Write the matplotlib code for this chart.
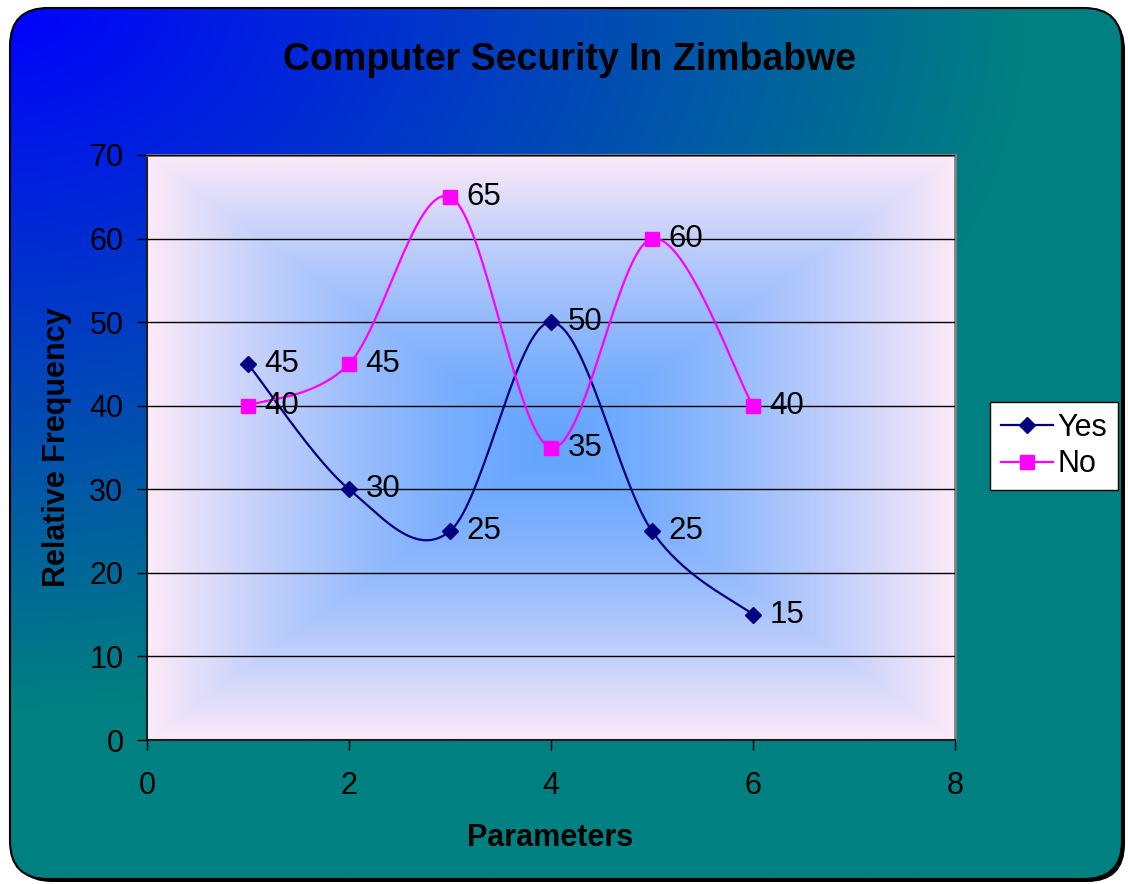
import numpy as np
import matplotlib
matplotlib.use("Agg")
import matplotlib.pyplot as plt
from matplotlib.patches import FancyBboxPatch
from matplotlib.lines import Line2D

plt.rcParams['font.family'] = ['Liberation Sans', 'DejaVu Sans']

# ---- data ----
title = "Computer Security In Zimbabwe"
x_label = "Parameters"
y_label = "Relative Frequency"
params = [1, 2, 3, 4, 5, 6]
yes_vals = [45, 30, 25, 50, 25, 15]
no_vals = [40, 45, 65, 35, 60, 40]
series_names = ["Yes", "No"]
x_ticks = [0, 2, 4, 6, 8]
y_ticks = [0, 10, 20, 30, 40, 50, 60, 70]

W, H = 1128, 884
fig = plt.figure(figsize=(W / 100, H / 100), dpi=100)
fig.patch.set_facecolor('white')

# ---- background: rounded rectangle with gradient ----
bg = fig.add_axes([0, 0, 1, 1], zorder=-10)
bg.set_xlim(0, W)
bg.set_ylim(H, 0)
bg.axis('off')
xx, yy = np.meshgrid(np.linspace(0, 1, 400), np.linspace(0, 1, 320))
t = np.clip(np.sqrt((1.1 * xx) ** 2 + (1.25 * yy) ** 2), 0, 1)
c0 = np.array([0, 0, 255]) / 255.0
c1 = np.array([0, 128, 128]) / 255.0
img = c0[None, None, :] * (1 - t[..., None]) + c1[None, None, :] * t[..., None]
shadow = FancyBboxPatch((14, 12), 1111, 870, boxstyle="round,pad=0,rounding_size=38",
                        facecolor='black', edgecolor='none', transform=bg.transData)
bg.add_patch(shadow)
box = FancyBboxPatch((10, 8), 1112, 871, boxstyle="round,pad=0,rounding_size=38",
                     facecolor='none', edgecolor='black', linewidth=1.5, transform=bg.transData)
im = bg.imshow(img, extent=[0, W, H, 0], aspect='auto', zorder=1)
im.set_clip_path(box)
bg.add_patch(box)
box.set_zorder(2)

# ---- main axes ----
left, right, top, bottom = 147, 955, 155, 740
ax = fig.add_axes([left / W, 1 - bottom / H, (right - left) / W, (bottom - top) / H], zorder=1)
ax.patch.set_visible(False)
ax.set_xlim(0, 8)
ax.set_ylim(0, 70)

# plot-area rectangular gradient (from centre)
u, v = np.meshgrid(np.linspace(-1, 1, 500), np.linspace(-1, 1, 400))
r = np.maximum(np.abs(u), np.abs(v))
r = np.clip(r, 0, 1) ** 1.4
cc = np.array([100, 165, 255]) / 255.0
ce = np.array([252, 234, 248]) / 255.0
pimg = cc[None, None, :] * (1 - r[..., None]) + ce[None, None, :] * r[..., None]
ax.imshow(pimg, extent=[0, 8, 0, 70], aspect='auto', zorder=0, interpolation='bilinear')


def smooth(xs, ys, n=40):
    P = np.column_stack([xs, ys]).astype(float)
    Pext = np.vstack([P[0], P, P[-1]])
    out = []
    for i in range(len(P) - 1):
        p0, p1, p2, p3 = Pext[i], Pext[i + 1], Pext[i + 2], Pext[i + 3]
        b1 = p1 + (p2 - p0) / 6.0
        b2 = p2 - (p3 - p1) / 6.0
        tt = np.linspace(0, 1, n)[:, None]
        seg = ((1 - tt) ** 3) * p1 + 3 * ((1 - tt) ** 2) * tt * b1 + 3 * (1 - tt) * tt ** 2 * b2 + tt ** 3 * p2
        out.append(seg if i == 0 else seg[1:])
    S = np.vstack(out)
    return S[:, 0], S[:, 1]


yes_color = '#000080'
no_color = '#FF00FF'
sx, sy = smooth(params, yes_vals)
ax.plot(sx, sy, color=yes_color, lw=1.6, zorder=3)
ax.plot(params, yes_vals, ls='none', marker='D', ms=8, color=yes_color, zorder=4)
sx, sy = smooth(params, no_vals)
ax.plot(sx, sy, color=no_color, lw=1.6, zorder=3)
ax.plot(params, no_vals, ls='none', marker='s', ms=10, color=no_color, zorder=4)

for xv, yv in zip(params, yes_vals):
    ax.annotate(str(yv), (xv, yv), xytext=(12, 0), textcoords='offset points',
                ha='left', va='center', fontsize=22.5, color='black', zorder=5)
for xv, yv in zip(params, no_vals):
    ax.annotate(str(yv), (xv, yv), xytext=(12, 0), textcoords='offset points',
                ha='left', va='center', fontsize=22.5, color='black', zorder=5)

ax.set_xticks(x_ticks)
ax.set_yticks(y_ticks)
ax.tick_params(axis='both', direction='out', length=7, width=1, color='black',
               labelsize=22, labelcolor='black')
ax.tick_params(axis='y', pad=10)
ax.tick_params(axis='x', pad=15)
ax.yaxis.grid(True, color='black', lw=1)
ax.set_axisbelow(False)
for g in ax.get_ygridlines():
    g.set_zorder(1)
for s in ['top', 'right']:
    ax.spines[s].set_color('#808080')
    ax.spines[s].set_linewidth(2)
for s in ['left', 'bottom']:
    ax.spines[s].set_color('#202020')
    ax.spines[s].set_linewidth(1.5)

# ---- texts ----
fig.text(570 / W, 1 - 60 / H, title, ha='center', va='center', fontsize=27, fontweight='bold')
fig.text(550 / W, 1 - 838 / H, x_label, ha='center', va='center', fontsize=22, fontweight='bold')
fig.text(57 / W, 1 - 447 / H, y_label, ha='center', va='center', fontsize=22,
         fontweight='bold', rotation=90)

# ---- legend ----
handles = [Line2D([], [], color=yes_color, lw=1.6, marker='D', ms=8),
           Line2D([], [], color=no_color, lw=1.6, marker='s', ms=10)]
leg = ax.legend(handles, series_names, loc='upper left',
                bbox_to_anchor=(990 / W, 1 - 402 / H), bbox_transform=fig.transFigure,
                fontsize=22, frameon=True, fancybox=False, framealpha=1,
                edgecolor='black', facecolor='white', handlelength=1.7,
                handletextpad=0.15, borderpad=0.35, labelspacing=0.22, borderaxespad=0)
leg.get_frame().set_linewidth(1)

fig.savefig('out.png', dpi=100)
